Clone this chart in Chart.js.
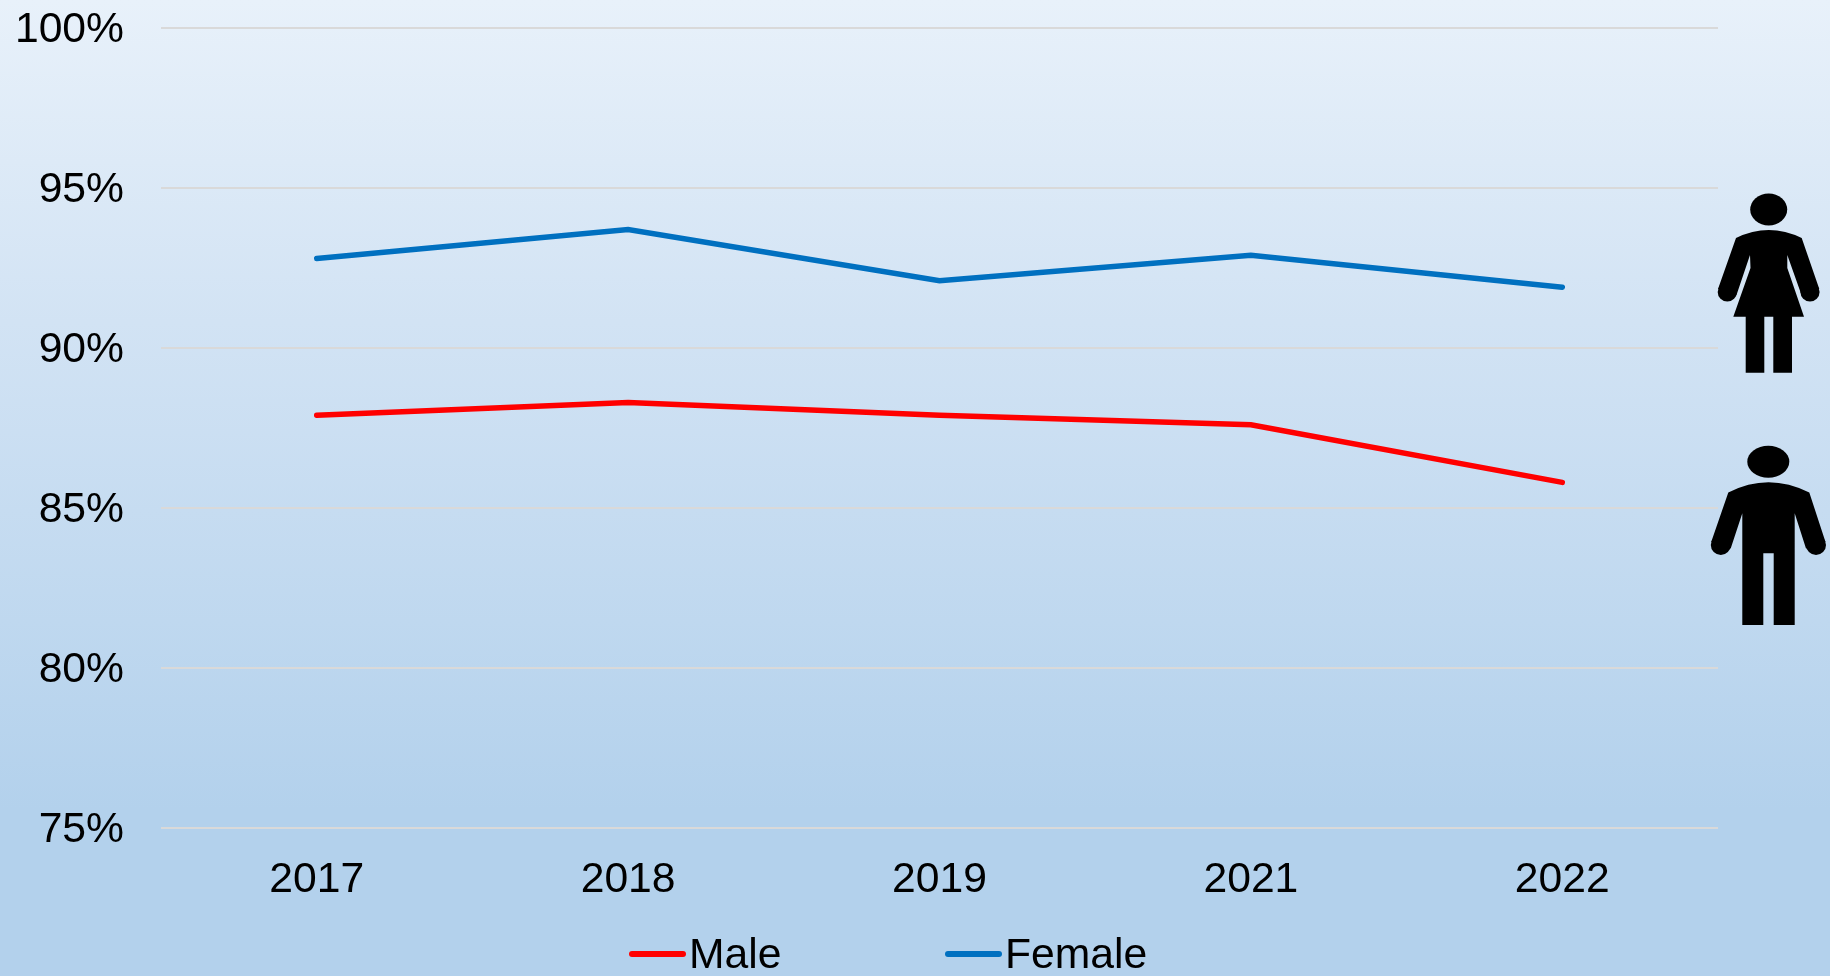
<!DOCTYPE html>
<html>
<head>
<meta charset="utf-8">
<script src="https://cdn.jsdelivr.net/npm/chart.js@4/dist/chart.umd.min.js"></script>
<style>
html,body{margin:0;padding:0;width:1830px;height:976px;overflow:hidden;background:linear-gradient(180deg,#e8f1fa 0%,#d2e3f4 33%,#b3d1ec 83%,#b3d1ec 100%);}
canvas{display:block;}
</style>
</head>
<body>
<canvas id="c" width="1830" height="976"></canvas>
<script>
const categories = ['2017','2018','2019','2021','2022'];
const maleValues = [87.9,88.3,87.9,87.6,85.8];
const femaleValues = [92.8,93.7,92.1,92.9,91.9];
const FONT = '"Liberation Sans", Arial, sans-serif';

function ell(ctx,x,y,rx,ry){ctx.beginPath();ctx.ellipse(x,y,rx,ry,0,0,Math.PI*2);ctx.fill();}
function poly(ctx,pts){pts.forEach(p=>ctx.lineTo(p[0],p[1]));}

const icons = {
  id:'icons',
  afterDraw(chart){
    const ctx=chart.ctx; ctx.save(); ctx.fillStyle='#000';
    // woman
    ell(ctx,1768.7,209.5,18.5,16);
    ctx.beginPath();
    ctx.moveTo(1736,238);ctx.quadraticCurveTo(1768.7,222,1801.7,238);
    poly(ctx,[[1819.3,289],[1801.5,295],[1787.3,255],[1787.3,268],[1804,316.7],[1792,316.7],[1792,372.7],[1773.3,372.7],[1773.3,316.7],[1764.3,316.7],[1764.3,372.7],[1745.7,372.7],[1745.7,316.7],[1733.3,316.7],[1750.5,268],[1750,255],[1736.5,295],[1718,289]]);
    ctx.closePath();ctx.fill();
    ell(ctx,1727.3,292,9.6,9.6);
    ell(ctx,1810,292,9.6,9.6);
    // man
    ell(ctx,1768.3,461.7,21,16);
    ctx.beginPath();
    ctx.moveTo(1728.3,492.5);ctx.quadraticCurveTo(1768.3,472,1809.3,492.5);
    poly(ctx,[[1825.5,542],[1806,548.5],[1794.7,513.3],[1794.7,625],[1773.7,625],[1773.7,553.3],[1763.3,553.3],[1763.3,625],[1742.3,625],[1742.3,513.3],[1730.7,548.5],[1711.2,542]]);
    ctx.closePath();ctx.fill();
    ell(ctx,1720.8,545,10,10);
    ell(ctx,1816,545,10,10);
    ctx.restore();
  }
};

const legendPos = [[632,683,689],[948,999,1005]];
const lineLegend = {
  id:'lineLegend',
  afterDraw(chart){
    const ctx=chart.ctx; ctx.save();
    ctx.font='42.67px '+FONT; ctx.textBaseline='alphabetic'; ctx.textAlign='left';
    chart.data.datasets.forEach((d,i)=>{
      const p=legendPos[i];
      ctx.strokeStyle=d.borderColor;ctx.lineWidth=6;ctx.lineCap='round';
      ctx.beginPath();ctx.moveTo(p[0],954);ctx.lineTo(p[1],954);ctx.stroke();
      ctx.fillStyle='#000';ctx.fillText(d.label,p[2],968);
    });
    ctx.restore();
  }
};

new Chart(document.getElementById('c'),{
  type:'line',
  data:{labels:categories,datasets:[
    {label:'Male',data:maleValues,borderColor:'#ff0000',borderWidth:5.5,borderCapStyle:'round',tension:0,pointRadius:0,fill:false},
    {label:'Female',data:femaleValues,borderColor:'#0070c0',borderWidth:5.5,borderCapStyle:'round',tension:0,pointRadius:0,fill:false}
  ]},
  options:{
    responsive:false,animation:false,
    layout:{padding:{top:28,left:0,right:112,bottom:0}},
    plugins:{legend:{display:false},tooltip:{enabled:false},title:{display:false}},
    scales:{
      x:{offset:true,grid:{display:false},border:{display:false},
        ticks:{color:'#000',font:{family:FONT,size:42.67},padding:19,maxRotation:0},
        afterFit(s){s.height=148;s.paddingLeft=0;s.paddingRight=0;}},
      y:{min:75,max:100,
        grid:{color:'#d9d9d9',lineWidth:2,drawTicks:false},border:{display:false},
        ticks:{stepSize:5,color:'#000',font:{family:FONT,size:42.67},padding:37,labelOffset:2,callback:v=>v+'%'},
        afterFit(s){s.width=161;s.paddingTop=0;s.paddingBottom=0;}}
    }
  },
  plugins:[icons,lineLegend]
});
</script>
</body>
</html>
